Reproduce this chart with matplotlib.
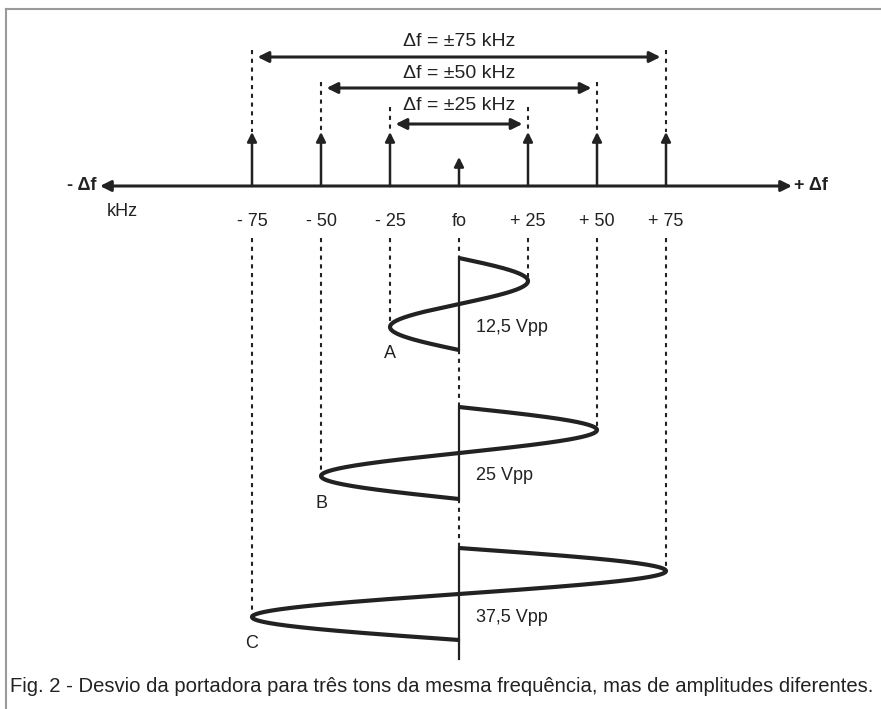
import matplotlib.pyplot as plt
import numpy as np
from matplotlib import font_manager

# fonts: narrow sans if available
names = {f.name for f in font_manager.fontManager.ttflist}
if 'Liberation Sans Narrow' in names:
    plt.rcParams['font.family'] = ['Liberation Sans Narrow', 'DejaVu Sans']
else:
    plt.rcParams['font.family'] = ['Liberation Sans', 'DejaVu Sans']

# Data
deviations_khz = [25, 50, 75]
amplitudes_vpp = [12.5, 25, 37.5]
wave_labels = ['A', 'B', 'C']
amp_labels = ['12,5 Vpp', '25 Vpp', '37,5 Vpp']
span_labels = ['Δf = ±25 kHz', 'Δf = ±50 kHz', 'Δf = ±75 kHz']
tick_pos = [-75, -50, -25, 0, 25, 50, 75]
tick_labels = ['- 75', '- 50', '- 25', 'fo', '+ 25', '+ 50', '+ 75']
caption = 'Fig. 2 - Desvio da portadora para três tons da mesma frequência, mas de amplitudes diferentes.'

khz_per_vpp = 2.0  # 12,5 Vpp -> 25 kHz

# layout (vertical positions in pixels from top)
px = 2.76
x0 = 459
axis_y = 186
span_y = [124, 88, 57]
span_text_y = [106, 74, 42]
dot_top = [107, 82, 50]
wave_start = [258, 407, 548]
period = 92

fig = plt.figure(figsize=(8.81, 7.09), dpi=100)
ax = fig.add_axes([0, 0, 1, 1])
ax.set_xlim(-x0 / px, (881 - x0) / px)
ax.set_ylim(709, 0)
ax.axis('off')

# frame
ax.plot([-(x0 - 6) / px, -(x0 - 6) / px], [709, 9], color='#9a9a9a', lw=1.5)
ax.plot([-(x0 - 6) / px, (881 - x0) / px], [9, 9], color='#9a9a9a', lw=1.5)

ink = '#222222'
head = dict(arrowstyle='-|>', color=ink, lw=2.0, mutation_scale=16, shrinkA=0, shrinkB=0)
dhead = dict(arrowstyle='<|-|>', color=ink, lw=2.2, mutation_scale=16, shrinkA=0, shrinkB=0)

# frequency axis
ax.annotate('', xy=(-(x0 - 100) / px, axis_y), xytext=((792 - x0) / px, axis_y), arrowprops=dhead)
ax.text(-(x0 - 96) / px, axis_y, '- Δf', ha='right', va='center', fontsize=13, fontweight='bold', color=ink)
ax.text((794 - x0) / px, axis_y, '+ Δf', ha='left', va='center', fontsize=13, fontweight='bold', color=ink)
ax.text(-(x0 - 107) / px, 211, 'kHz', ha='left', va='center', fontsize=13, color=ink)
for p, lab in zip(tick_pos, tick_labels):
    ax.text(p, 221, lab, ha='center', va='center', fontsize=13, color=ink)

# spectral lines
for p in tick_pos:
    top = 157 if p == 0 else 132
    ax.annotate('', xy=(p, top), xytext=(p, axis_y), arrowprops=dict(head, lw=1.8, mutation_scale=14))

# deviation spans
for d, y, ty, dt, lab in zip(deviations_khz, span_y, span_text_y, dot_top, span_labels):
    ax.annotate('', xy=(-d + 2, y), xytext=(d - 2, y), arrowprops=dhead)
    ax.text(0, ty, lab, ha='center', va='center', fontsize=14, color=ink)
    for s in (-d, d):
        ax.plot([s, s], [dt, 132], color=ink, lw=1.5, ls=(0, (2, 2.2)))

# waveforms
for d, a, y0, wl, al in zip(deviations_khz, amplitudes_vpp, wave_start, wave_labels, amp_labels):
    amp = a * khz_per_vpp
    yy = np.linspace(y0, y0 + period, 400)
    xx = amp * np.sin(2 * np.pi * (yy - y0) / period)
    ax.plot(xx, yy, color=ink, lw=3.0, solid_capstyle='butt')
    ax.plot([0, 0], [y0, y0 + period], color=ink, lw=1.6)
    # dotted guides to peaks
    ax.plot([-d, -d], [238, y0 + 0.75 * period], color=ink, lw=1.5, ls=(0, (2, 2.2)))
    ax.plot([d, d], [238, y0 + 0.25 * period], color=ink, lw=1.5, ls=(0, (2, 2.2)))
    ax.text(-d, y0 + 0.75 * period + 27, wl, ha='center', va='center', fontsize=13, color=ink)
    ax.text(6, y0 + 0.75 * period, al, ha='left', va='center', fontsize=13, color=ink)

# centre line between waves
gaps = [(238, wave_start[0])] + [(wave_start[i] + period, wave_start[i + 1]) for i in range(2)]
for g0, g1 in gaps:
    ax.plot([0, 0], [g0, g1], color=ink, lw=1.5, ls=(0, (2, 2.2)))
ax.plot([0, 0], [wave_start[2] + period, 659], color=ink, lw=1.6)

ax.text(-(x0 - 10) / px, 687, caption, ha='left', va='center', fontsize=14.55, color=ink)

fig.savefig('out.png', dpi=100)
